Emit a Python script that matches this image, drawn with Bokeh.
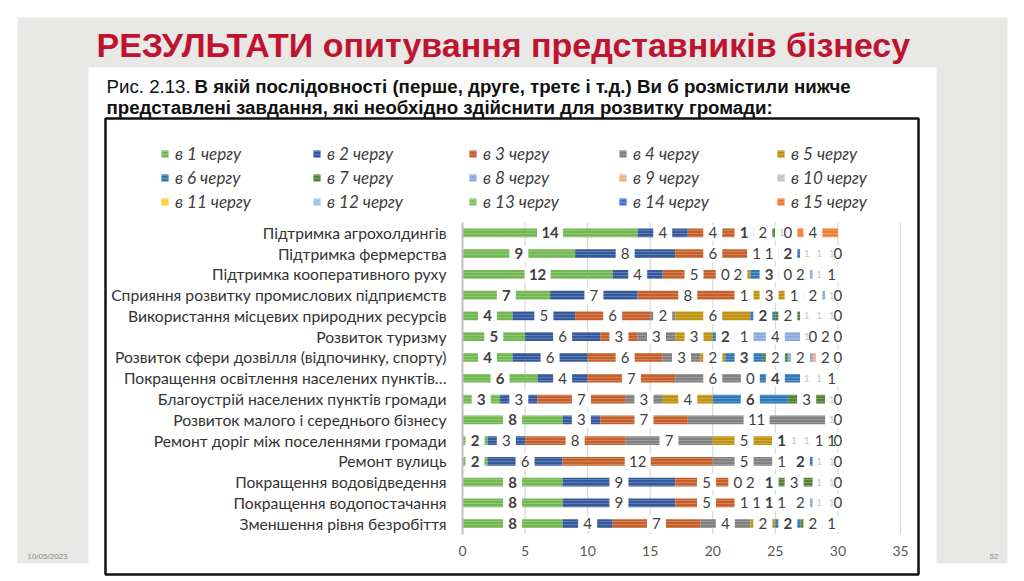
import numpy as np
from bokeh.plotting import figure
from bokeh.models import (ColumnDataSource, Range1d, LinearAxis, Legend,
                          LegendItem, FixedTicker)
from bokeh.core.properties import value
from bokeh.embed import file_html
from bokeh.resources import INLINE

N = None

categories = [
    "Підтримка агрохолдингів",
    "Підтримка фермерства",
    "Підтримка кооперативного руху",
    "Сприяння розвитку промислових підприємств",
    "Використання місцевих природних ресурсів",
    "Розвиток туризму",
    "Розвиток сфери дозвілля (відпочинку, спорту)",
    "Покращення освітлення населених пунктів…",
    "Благоустрій населених пунктів громади",
    "Розвиток малого і середнього бізнесу",
    "Ремонт доріг між поселеннями громади",
    "Ремонт вулиць",
    "Покращення водовідведення",
    "Покращення водопостачання",
    "Зменшення рівня безробіття",
]

series_names = ["в 1 чергу", "в 2 чергу", "в 3 чергу", "в 4 чергу", "в 5 чергу",
                "в 6 чергу", "в 7 чергу", "в 8 чергу", "в 9 чергу", "в 10 чергу",
                "в 11 чергу", "в 12 чергу", "в 13 чергу", "в 14 чергу", "в 15 чергу"]

s1 = [14, 9, 12, 7, 4, 5, 4, 6, 3, 8, 2, 2, 8, 8, 8]
s2 = [4, 8, 4, 7, 5, 6, 6, 4, 3, 3, 3, 6, 9, 9, 4]
s3 = [4, 6, 5, 8, 6, 3, 6, 7, 7, 7, 8, 12, 5, 5, 7]
s4 = [N, 1, 0, 1, 2, 3, 3, 6, 3, 11, 7, 5, 0, 1, 4]
s5 = [N, 1, 2, 3, 6, 3, 2, 0, 4, N, 5, 1, 2, 1, 2]
s6 = [1, 2, 3, N, 2, 2, 3, 4, 6, N, 1, 2, 1, 1, 2]
s7 = [2, N, 0, 1, 2, 1, 2, N, 3, N, N, N, 3, 1, 2]
s8 = [N, N, 2, 2, N, 4, 2, N, N, N, N, N, N, 2, N]
s9 = [N, N, N, N, N, N, 2, N, N, N, N, N, N, N, N]
s10 = [1, 1, 1, 1, 1, 1, N, 1, 1, 1, 1, 1, 1, 1, N]
s11 = [N, 1, N, N, 1, N, N, 1, N, N, 1, 1, 1, 1, N]
s12 = [N, 1, N, N, 1, N, N, N, N, N, N, N, N, N, N]
s13 = [0, N, N, N, N, 0, N, N, N, N, 1, N, N, N, N]
s14 = [N, N, N, N, N, 2, N, N, N, N, 1, N, N, N, N]
s15 = [4, 0, 1, 0, 0, 0, 0, 1, 0, 0, 0, 0, 0, 0, 1]

x_ticks = [0, 5, 10, 15, 20, 25, 30, 35]

title_text = "РЕЗУЛЬТАТИ опитування представників бізнесу"
caption_lead = "Рис. 2.13."
caption_line1 = "В якій послідовності (перше, друге, третє і т.д.) Ви б розмістили нижче"
caption_line2 = "представлені завдання, які необхідно здійснити для розвитку громади:"
date_text = "10/05/2023"
page_text = "52"

series = [s1, s2, s3, s4, s5, s6, s7, s8, s9, s10, s11, s12, s13, s14, s15]

colors = ["#72B852", "#34589C", "#C6602A", "#808080", "#BF9310",
          "#2F78B8", "#4F8436", "#8CAADC", "#F4AE84", "#C4C4C4",
          "#FFCB3D", "#9DC3E6", "#82C262", "#4472C4", "#ED7D31"]

bold_series = {0, 5}
faint_series = {9, 10, 11}

# ---- canvas geometry (pixels on the canvas) ----
W, H = 1020, 578
FX0, FX1 = 462, 900          # where 0 and 35 fall
FY0, FY1 = 222, 533.5        # top and bottom of the 15 rows
nrows = len(categories)
xmax = 35
xs = xmax / (FX1 - FX0)
unit = (FY1 - FY0) / nrows

p = figure(width=W, height=H, output_backend="svg", toolbar_location=None,
           x_range=Range1d(-FX0 * xs, (W - FX0) * xs),
           y_range=Range1d(-(H - FY1) / unit, nrows + FY0 / unit),
           min_border=0, x_axis_type=None, y_axis_type=None)
p.extra_x_ranges = {"px": Range1d(0, W)}
p.extra_y_ranges = {"py": Range1d(H, 0)}
p.border_fill_color = "white"
p.background_fill_color = "white"
p.outline_line_color = None
p.grid.visible = False

PX = dict(x_range_name="px", y_range_name="py")

# slide background, white panel, black frame of the picture
p.quad(left=[17], right=[1007], top=[17], bottom=[563], fill_color="#E8E8E6",
       line_color=None, **PX)
p.quad(left=[88], right=[936], top=[67], bottom=[H + 2], fill_color="white",
       line_color=None, **PX)
p.quad(left=[105], right=[918], top=[118], bottom=[574], fill_alpha=0,
       line_color="#111111", line_width=2.5, **PX)

# row positions (top row first)
ypos = [nrows - 0.5 - i for i in range(nrows)]

# vertical grid lines over the rows only
p.segment(x0=x_ticks[1:], x1=x_ticks[1:], y0=[0] * (len(x_ticks) - 1),
          y1=[nrows] * (len(x_ticks) - 1), line_color="#D9D9D9", line_width=1.2)

# stacked bars
data = {"cat": categories, "ypos": ypos}
names = []
for i, s in enumerate(series):
    key = f"s{i+1}"
    names.append(key)
    data[key] = [0 if v is None else v for v in s]
src = ColumnDataSource(data)
renderers = p.hbar_stack(names, y="ypos", height=0.42, color=colors, source=src,
                         line_color=None, hatch_pattern="horizontal_line",
                         hatch_color="white", hatch_alpha=0.22, hatch_scale=3,
                         hatch_weight=1)

# data labels
filled = np.array([data[k] for k in names], dtype=float)
lefts = np.vstack([np.zeros(nrows), np.cumsum(filled, axis=0)[:-1]])
groups = {"bold": dict(x=[], y=[], text=[], w=[]),
          "normal": dict(x=[], y=[], text=[], w=[]),
          "faint": dict(x=[], y=[], text=[], w=[])}
for i, s in enumerate(series):
    g = "bold" if i in bold_series else ("faint" if i in faint_series else "normal")
    for j, v in enumerate(s):
        if v is None:
            continue
        t = str(v)
        groups[g]["x"].append(lefts[i, j] + v / 2)
        groups[g]["y"].append(ypos[j])
        groups[g]["text"].append(t)
        groups[g]["w"].append(13 if g == "faint" else 7 * len(t) + 12)

for g, d in groups.items():
    p.rect(x="x", y="y", width="w", width_units="screen", height=16,
           height_units="screen", fill_color="white", line_color=None,
           source=ColumnDataSource(d))
for g, d in groups.items():
    p.text(x="x", y="y", text="text", source=ColumnDataSource(d),
           text_align="center", text_baseline="middle",
           text_font=value("Lato"),
           text_font_style="bold" if g == "bold" else "normal",
           text_font_size="10px" if g == "faint" else "15px",
           text_color="#C8C8C8" if g == "faint" else "#404040")

# axes (fixed inside the frame)
xaxis = LinearAxis(fixed_location=0, ticker=FixedTicker(ticks=x_ticks),
                   bounds=(0, xmax))
xaxis.axis_line_color = None
xaxis.major_tick_line_color = None
xaxis.minor_tick_line_color = None
xaxis.major_label_standoff = 6
xaxis.major_label_text_font = "Lato"
xaxis.major_label_text_font_size = "14px"
xaxis.major_label_text_color = "#595959"
p.add_layout(xaxis, "below")

yaxis = LinearAxis(fixed_location=0, ticker=FixedTicker(ticks=ypos),
                   major_label_overrides={y: c for y, c in zip(ypos, categories)},
                   bounds=(0, nrows))
yaxis.axis_line_color = "#BFBFBF"
yaxis.axis_line_width = 2
yaxis.major_tick_line_color = None
yaxis.minor_tick_line_color = None
yaxis.major_label_standoff = 10
yaxis.major_label_text_font = "Lato"
yaxis.major_label_text_font_size = "15.7px"
yaxis.major_label_text_color = "#333333"
p.add_layout(yaxis, "left")

# legend: five columns of three entries
col_x = [160, 312, 468, 618, 776]
for c in range(5):
    items = [LegendItem(label=series_names[c + 5 * r], renderers=[renderers[c + 5 * r]])
             for r in range(3)]
    lg = Legend(items=items, location=(col_x[c], H - 211.5), orientation="vertical",
                glyph_width=9, glyph_height=9, label_height=18, spacing=3,
                padding=0, margin=0, label_standoff=6,
                background_fill_alpha=0, border_line_color=None,
                label_text_font="Lato", label_text_font_style="italic",
                label_text_font_size="17px", label_text_color="#404040")
    p.add_layout(lg, "center")

# texts
p.text(x=[96], y=[44], text=[title_text], text_font=value("Liberation Sans"),
       text_font_style="bold", text_font_size="34px", text_color="#C0132F",
       text_baseline="alphabetic", **PX)
p.text(x=[106], y=[86], text=[caption_lead], text_font=value("Liberation Sans"),
       text_font_size="18.7px", text_color="#111111", text_baseline="alphabetic", **PX)
p.text(x=[194], y=[86], text=[caption_line1], text_font=value("Liberation Sans"),
       text_font_style="bold", text_font_size="18.7px", text_color="#111111",
       text_baseline="alphabetic", **PX)
p.text(x=[106], y=[107], text=[caption_line2], text_font=value("Liberation Sans"),
       text_font_style="bold", text_font_size="18.7px", text_color="#111111",
       text_baseline="alphabetic", **PX)
p.text(x=[27], y=[556], text=[date_text], text_font=value("Liberation Sans"),
       text_font_size="8px", text_color="#888888", text_baseline="middle", **PX)
p.text(x=[989], y=[556], text=[page_text], text_font=value("Liberation Sans"),
       text_font_size="8px", text_color="#888888", text_baseline="middle", **PX)

open("out.html", "w").write(file_html(p, INLINE))
